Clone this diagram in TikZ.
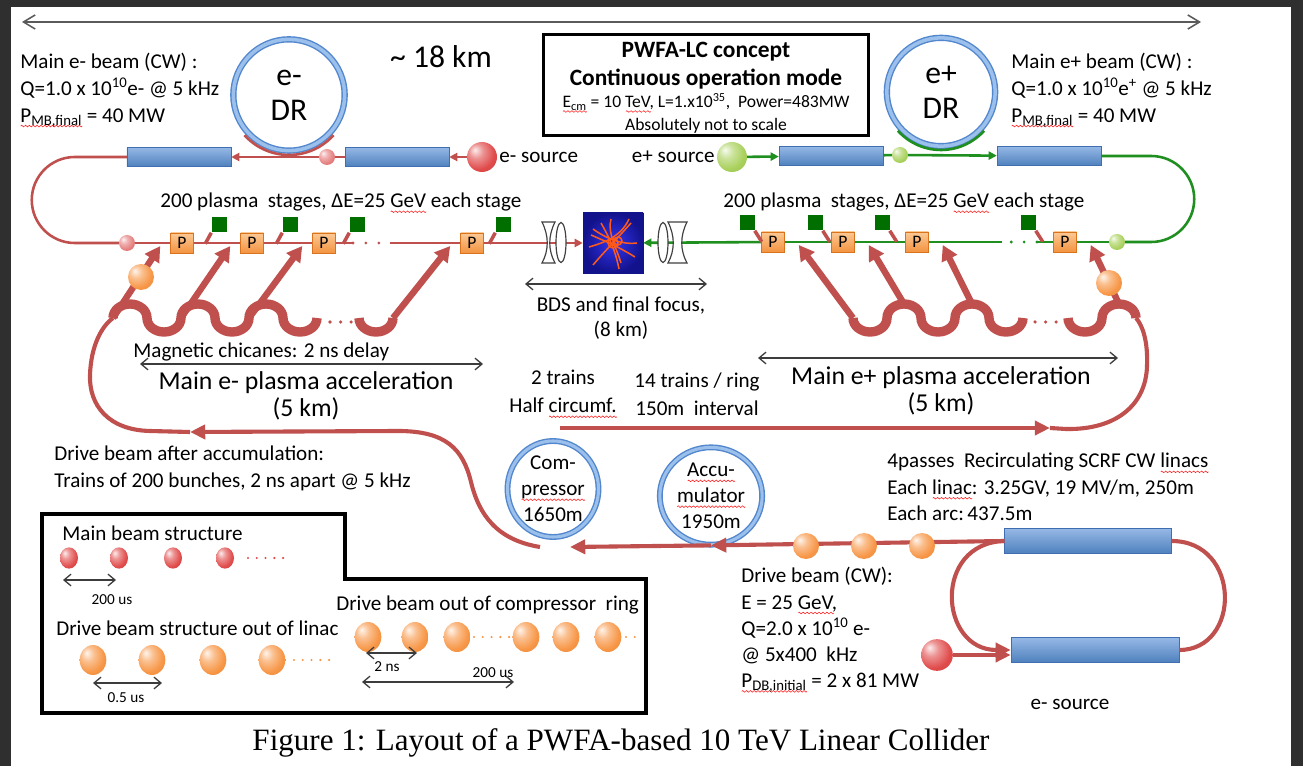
\documentclass[tikz,border=0pt]{standalone}
\usepackage{fontspec}
\setmainfont{Carlito}
\newfontfamily\capfont{Liberation Serif}
\usetikzlibrary{arrows.meta,positioning,calc,shapes.geometric}
\definecolor{Frame}{HTML}{2F2F2F}
\definecolor{Muted}{HTML}{5A5A5A}
\definecolor{Ink}{HTML}{3C3C3C}
\definecolor{BeamRed}{HTML}{C0504D}
\definecolor{BeamGreen}{HTML}{1F8F1F}
\definecolor{BoxTop}{HTML}{95B8E6}
\definecolor{BoxBot}{HTML}{4F81BD}
\definecolor{BoxEdge}{HTML}{3F6FB0}
\definecolor{RingDark}{HTML}{5287CE}
\definecolor{RingLight}{HTML}{9CC0EC}
\definecolor{CellTop}{HTML}{FCC994}
\definecolor{CellBot}{HTML}{F39341}
\definecolor{CellEdge}{HTML}{D9731E}
\definecolor{Kick}{HTML}{006F00}
\definecolor{Bunch}{HTML}{F79646}
\definecolor{Electron}{HTML}{E04A4A}
\definecolor{Pale}{HTML}{E57D7D}
\definecolor{Positron}{HTML}{A8D05A}
\definecolor{Deep}{HTML}{12128C}
\definecolor{Glow}{HTML}{3434F0}
\definecolor{Spark}{HTML}{FF5A1A}
\definecolor{SpellRed}{HTML}{FF2020}

% shiny bunch shading, tinted by the colour glint
\colorlet{glint}{Bunch}
\pgfdeclareradialshading[glint]{glossy}{\pgfqpoint{-12bp}{12bp}}{color(0bp)=(glint!10!white); color(12bp)=(glint!60!white); color(28bp)=(glint); color(50bp)=(glint!88!black); color(70bp)=(glint!78!black)}

% red wavy underline
\newsavebox{\spellbox}
\newcommand{\wavebit}{\hbox to 3.2pt{\tikz[baseline=0pt]\draw[SpellRed,line width=0.5pt] (0pt,0pt) sin (0.8pt,0.7pt) cos (1.6pt,0pt) sin (2.4pt,-0.7pt) cos (3.2pt,0pt);\hss}}
\newcommand{\spell}[1]{\sbox\spellbox{#1}\rlap{\raisebox{-3.4pt}{\hbox to \wd\spellbox{\xleaders\wavebit\hfill}}}#1}

\begin{document}
\begin{tikzpicture}[x=0.03cm,y=0.03cm,
  txt/.style={font=\fontsize{18}{23}\selectfont,inner sep=1pt},
  note/.style={txt,align=left,anchor=west},
  big/.style={font=\fontsize{22}{23}\selectfont,inner sep=1pt,align=center},
  lab/.style={font=\fontsize{13}{15}\selectfont,inner sep=1pt},
  ttl/.style={font=\fontsize{20}{24}\selectfont\bfseries,inner sep=0pt},
  linac/.style={draw=BoxEdge,top color=BoxTop,bottom color=BoxBot,minimum width=3.12cm,minimum height=0.57cm,inner sep=0pt},
  ring/.style={circle,draw=RingDark,double=RingLight,double distance=3pt,line width=1.2pt,fill=white,align=center,inner sep=0pt,font=\fontsize{27}{30}\selectfont},
  store/.style={ellipse,draw=RingDark,double=RingLight,double distance=2.6pt,line width=1.2pt,fill=white,inner sep=0pt},
  gloss/.code={\colorlet{glint}{#1}},
  glossy/.style={gloss=#1,shade,shading=glossy},
  bunch/.style={circle,inner sep=0pt,minimum size=#1},
  egg/.style={ellipse,inner sep=0pt,minimum width=0.8cm,minimum height=0.9cm,glossy=Bunch},
  stage/.style={draw=CellEdge,top color=CellTop,bottom color=CellBot,minimum width=0.69cm,minimum height=0.6cm,inner sep=0pt,font=\fontsize{15}{15}\selectfont},
  plug/.style={fill=Kick,minimum size=0.45cm,inner sep=0pt},
  eline/.style={draw=BeamRed,line width=2.2pt},
  pline/.style={draw=BeamGreen,line width=2.2pt},
  arr/.style={-{Triangle[length=7pt,width=7pt]}},
  dotrow/.style={line width=2.6pt,line cap=round,dash pattern=on 0pt off 11pt},
  stub/.style={draw=BeamRed,line width=3pt},
  drive/.style={draw=BeamRed,line width=3.5pt},
  dtip/.style={-{Triangle[length=13pt,width=12pt]}},
  feed/.style={draw=BeamRed,line width=5.5pt,-{Triangle[length=13pt,width=14pt]}},
  chicane/.style={draw=BeamRed,line width=8pt},
  dim/.style={draw=Ink,line width=1.1pt,>={Straight Barb[length=6pt,width=10pt]},<->},
  lens/.style={draw=black!75,fill=white,line width=1pt}
]
% frame
\fill[Frame] (0,0) rectangle (1303,-766);
\fill[white] (11,-7) rectangle (1291,-766);
\useasboundingbox (0,0) rectangle (1303,-766);

% overall length
\coordinate (spanL) at (22,-22);
\coordinate (spanR) at (1201,-22);
\draw[draw=Muted,line width=1.3pt,>={Straight Barb[length=10pt,width=12pt]},<->] (spanL) -- (spanR);
\node[font=\fontsize{27}{30}\selectfont,inner sep=0pt] (length) at (441,-57) {\textasciitilde\ 18 km};

% concept box
\node[draw=black,line width=2.6pt,minimum width=9.75cm,minimum height=3.03cm] (concept) at (706,-85) {};
\node[ttl] (title1) at (706,-52) {PWFA-LC concept};
\node[ttl] (title2) at (706,-79) {Continuous operation mode};
\node[font=\fontsize{15}{17}\selectfont,inner sep=0pt] (title3) at (706,-103) {\spell{E\textsubscript{cm}} = 10 \spell{TeV}, L=1.x10\textsuperscript{35},\ \ Power=483MW};
\node[font=\fontsize{15}{17}\selectfont,inner sep=0pt] (title4) at (706,-126) {Absolutely not to scale};

% damping rings
\node[ring,minimum size=3.34cm] (dre) at (289,-95) {e-\\DR};
\node[ring,minimum size=3.25cm] (drp) at (941,-92) {e+\\DR};

% main beam parameters
\node[note] (epar) at (19,-90) {Main e- beam (CW) :\\Q=1.0 x 10\textsuperscript{10}e- @ 5 kHz\\\spell{P\textsubscript{MB,final}} = 40 MW};
\node[note] (ppar) at (1010,-90) {Main e+ beam (CW) :\\Q=1.0 x 10\textsuperscript{10}e\textsuperscript{+} @ 5 kHz\\\spell{P\textsubscript{MB,final}} = 40 MW};

% injectors
\node[linac] (linA) at (179,-157) {};
\node[linac] (linB) at (397,-157) {};
\node[linac] (linC) at (831,-156) {};
\node[linac] (linD) at (1049,-156) {};
\node[bunch=0.9cm,glossy=Electron] (esrc) at (482,-157) {};
\node[txt,anchor=west] (esrcl) at (498,-157) {e- source};
\node[bunch=0.9cm,glossy=Positron] (psrc) at (732,-157) {};
\node[txt,anchor=east] (psrcl) at (716,-157) {e+ source};
\node[bunch=0.48cm,glossy=Pale] (eb1) at (327,-157) {};
\node[bunch=0.48cm,glossy=Positron] (pb1) at (900,-155) {};
\draw[eline,arr] (esrc) -- (linB);
\draw[eline] (linB) -- (eb1);
\draw[eline,arr] (eb1) -- (linA);
\draw[pline,arr] (psrc) -- (linC);
\draw[pline] (linC) -- (pb1);
\draw[pline,arr] (pb1) -- (linD);
\draw[eline] ($(dre.center)+(222:60)$) arc[start angle=222,end angle=318,radius=60];
\draw[pline] ($(drp.center)+(222:58)$) arc[start angle=222,end angle=318,radius=58];

% plasma stages
\node[bunch=0.48cm,glossy=Pale] (eb2) at (127,-243) {};
\node[bunch=0.48cm,glossy=Positron] (pb2) at (1117,-242) {};
\foreach \x [count=\i] in {182,252,324,472} \node[stage] (p\i) at (\x,-243) {P};
\foreach \x [count=\i] in {773,843,917,1065} \node[stage] (q\i) at (\x,-242) {P};
\foreach \x [count=\i] in {219,290,357,503} \node[plug] (g\i) at (\x,-225) {};
\foreach \x [count=\i] in {747,815,882,1028} \node[plug] (h\i) at (\x,-223) {};
\node[txt,anchor=west] (stagesE) at (159,-203) {200 plasma\ \ stages, ΔE=25 \spell{GeV} each stage};
\node[txt,anchor=west] (stagesP) at (722,-203) {200 plasma\ \ stages, ΔE=25 \spell{GeV} each stage};

% interaction point
\node[minimum size=1.8cm,inner sep=0pt,inner color=Glow,outer color=Deep,draw=Deep] (ip) at (613,-243) {};
\begin{scope}[shift={(ip.center)},Spark,line width=1.3pt]
  \draw (-20,-22) .. controls (-8,-8) and (2,2) .. (18,20);
  \draw (-22,8) .. controls (-8,2) and (6,-4) .. (22,-14);
  \draw (-12,20) .. controls (-4,6) and (2,-6) .. (6,-26);
  \draw (-24,-4) .. controls (-10,0) and (8,6) .. (16,24);
  \draw (8,-20) .. controls (4,-6) and (-6,10) .. (-2,24);
  \draw (-20,14) .. controls (-6,4) and (10,-2) .. (24,0);
  \draw (0,0) circle (5);
  \draw (5,2) circle (4);
\end{scope}

\coordinate (gapL) at (353,-243);
\coordinate (gapR) at (390,-243);
\coordinate (gapP) at (1002,-242);
\coordinate (gapQ) at (1037,-242);
\draw[eline] (linA.west) -- ++(-52,0) arc[start angle=90,end angle=270,radius=43] -- (eb2);
\draw[eline] (eb2) -- (p1) -- (p2) -- (p3) -- (gapL);
\draw[BeamRed,dotrow] (gapL) -- (gapR);
\draw[eline] (gapR) -- (p4);
\draw[eline,arr] (p4) -- (ip);
\draw[pline] (linD.east) -- ++(50,0) arc[start angle=90,end angle=-90,radius=43] -- (pb2);
\draw[pline] (pb2) -- (q4) -- (gapQ);
\draw[BeamGreen,dotrow] (gapQ) -- (gapP);
\draw[pline] (gapP) -- (q3) -- (q2) -- (q1);
\draw[pline,arr] (q1) -- (ip);
\foreach \i in {1,...,4} \draw[stub] (g\i.south west) -- ++(-6,-11);
\foreach \i in {1,...,4} \draw[stub] (h\i.south east) -- ++(7,-11);

% final focus lenses
\draw[lens] (542,-222) -- (555,-222) .. controls (548,-236) and (548,-250) .. (555,-263) -- (542,-263) .. controls (549,-250) and (549,-236) .. (542,-222) -- cycle;
\draw[lens] (561,-242.5) ellipse [x radius=5,y radius=20];
\draw[lens] (663,-242.5) ellipse [x radius=5,y radius=20];
\draw[lens] (668,-222) -- (687,-222) .. controls (680,-236) and (680,-250) .. (687,-263) -- (668,-263) .. controls (675,-250) and (675,-236) .. (668,-222) -- cycle;
\coordinate (bdsL) at (525,-284);
\coordinate (bdsR) at (707,-284);
\draw[dim] (bdsL) -- (bdsR);
\node[txt,align=center,font=\fontsize{18}{21}\selectfont] (bds) at (621,-318) {BDS and final focus,\\(8 km)};

% chicanes and drive beam feeds
\coordinate (wL1) at (113,-318);
\coordinate (wL2) at (359,-318);
\coordinate (wR1) at (853,-318);
\coordinate (wR2) at (1068,-318);
\coordinate (wR3) at (1136,-318);
\draw[chicane] (wL1) \foreach \k in {1,2,3} {arc[start angle=180,end angle=0,x radius=17,y radius=14] arc[start angle=180,end angle=360,x radius=17,y radius=14]};
\draw[chicane] (wL2) arc[start angle=180,end angle=360,x radius=17,y radius=14];
\draw[chicane] (wR1) \foreach \k in {1,2} {arc[start angle=180,end angle=360,x radius=17,y radius=14] arc[start angle=180,end angle=0,x radius=17,y radius=14]} arc[start angle=180,end angle=360,x radius=17,y radius=14];
\draw[chicane] (wR2) arc[start angle=180,end angle=360,x radius=17,y radius=14] arc[start angle=180,end angle=0,x radius=17,y radius=14];
\draw[BeamRed,dotrow,line width=3pt,dash pattern=on 0pt off 9pt] (330,-322) -- (358,-322);
\draw[BeamRed,dotrow,line width=3pt,dash pattern=on 0pt off 9pt] (1035,-322) -- (1065,-322);
\foreach \s/\i in {113/1,181/2,249/3,393/4} \draw[feed] (\s,-318) -- ($(p\i.west)+(-10,-3)$);
\foreach \s/\t/\i in {853/-318/1,904/-304/2,972/-304/3,1119/-304/4} \draw[feed] (\s,\t) -- ($(q\i.east)+(14,-3)$);
\node[bunch=0.78cm,glossy=Bunch] (ob1) at (141,-277) {};
\node[bunch=0.78cm,glossy=Bunch] (ob2) at (1109,-283) {};

\coordinate (accEL) at (140,-364);
\coordinate (accER) at (483,-364);
\coordinate (accPL) at (758,-358);
\coordinate (accPR) at (1118,-358);
\draw[dim] (accEL) -- (accER);
\draw[dim] (accPL) -- (accPR);
\node[txt,anchor=west] (chic) at (132,-352) {Magnetic chicanes: 2 ns delay};
\node[big] (accE) at (306,-396) {Main e- plasma acceleration\\(5 km)};
\node[big] (accP) at (941,-391) {Main e+ plasma acceleration\\(5 km)};
\node[txt,align=center,font=\fontsize{18}{24}\selectfont] (trains) at (563,-394) {2 trains\\Half \spell{circumf.}};
\node[txt,align=center,font=\fontsize{18}{24}\selectfont] (spacing) at (697,-394) {14 trains / ring\\150m\ \ interval};

% compressor and accumulator
\node[store,minimum width=2.73cm,minimum height=2.88cm] (cmp) at (553,-489) {};
\node[store,minimum width=3.07cm,minimum height=2.92cm] (acc) at (711,-496) {};
\node[txt,align=center,font=\fontsize{18}{22}\selectfont] (cmpl) at (cmp) {Com-\\\spell{pressor}\\1650m};
\node[txt,align=center,font=\fontsize{18}{22}\selectfont] (accl) at (acc) {\spell{Accu-}\\\spell{mulator}\\1950m};
\coordinate (cmpOut) at (540,-547);
\coordinate (cmpIn) at (570,-547);
\coordinate (cmpTop) at (560,-428);
\coordinate (retL) at (190,-432);
\coordinate (retR) at (1050,-428);
\draw[drive,dtip] (cmpOut) .. controls (497,-540) and (479,-515) .. (471,-482) .. controls (463,-449) and (446,-431) .. (398,-431) -- (retL);
\draw[drive] (retL) -- (150,-431) .. controls (108,-430) and (89,-405) .. (90,-375) .. controls (91,-345) and (102,-326) .. (wL1);
\draw[drive,dtip] (cmpTop) -- (retR);
\draw[drive] (retR) -- (1066,-429) .. controls (1116,-430) and (1146,-405) .. (1147,-366) .. controls (1148,-342) and (1143,-326) .. (wR3);
\node[note] (accpar) at (53,-468) {Drive beam after accumulation:\\Trains of 200 bunches, 2 ns apart @ 5 kHz};

% recirculating drive linacs
\node[linac,minimum width=5.0cm,minimum height=0.74cm] (dlinA) at (1088,-541) {};
\node[linac,minimum width=5.04cm,minimum height=0.74cm] (dlinB) at (1095,-650) {};
\node[bunch=0.95cm,glossy=Electron] (dsrc) at (937,-655) {};
\node[txt] (dsrcl) at (1070,-704) {e- source};
\draw[drive] (dlinA.east) .. controls +(70,0) and +(62,0) .. (dlinB.east);
\draw[drive,dtip] (dlinA.west) .. controls +(-72,-2) and +(-72,0) .. (dlinB.west);
\draw[drive,dtip] (dsrc) -- (dsrc -| dlinB.west);
\draw[drive,dtip] (dlinA.west) -- (acc.south);
\draw[drive,dtip] (acc.south) -- (cmpIn);
\foreach \x [count=\i] in {806,864,922} \node[bunch=0.78cm,glossy=Bunch] (db\i) at (\x,-546) {};
\node[note,font=\fontsize{18}{22.5}\selectfont] (rlpar) at (886,-487) {4passes\ \ Recirculating SCRF CW \spell{linacs}\\Each \spell{linac}: 3.25GV, 19 MV/m, 250m\\Each arc:\,437.5m};
\node[note,font=\fontsize{18}{22.3}\selectfont] (dbpar) at (740,-630) {Drive beam (CW):\\E = 25 \spell{GeV},\\Q=2.0 x 10\textsuperscript{10} e-\\@ 5x400\ \ kHz\\\spell{P\textsubscript{DB,initial}} = 2 x 81 MW};

% bunch structure legend
\draw[line width=2.6pt] (42,-514) -- (345,-514) -- (345,-579) -- (646,-579) -- (646,-713) -- (42,-713) -- cycle;
\node[txt,anchor=west] (lgMain) at (61,-533) {Main beam structure};
\foreach \x [count=\i] in {69,119,173,225} \node[ellipse,inner sep=0pt,minimum width=0.54cm,minimum height=0.64cm,glossy=Electron] (mb\i) at (\x,-558) {};
\draw[Electron,dotrow,line width=2pt,dash pattern=on 0pt off 7.5pt] (248,-558) -- (288,-558);
\coordinate (mbL) at (63,-580);
\coordinate (mbR) at (116,-580);
\draw[dim] (mbL) -- (mbR);
\node[lab] (mbgap) at (112,-600) {200 us};
\node[txt,anchor=west] (lgLin) at (55,-628) {Drive beam structure out of linac};
\foreach \x [count=\i] in {93,152,213,272} \node[egg] (lb\i) at (\x,-660) {};
\draw[Bunch,dotrow,line width=2pt,dash pattern=on 0pt off 7.5pt] (294,-660) -- (330,-660);
\coordinate (lbL) at (93,-683);
\coordinate (lbR) at (162,-683);
\draw[dim] (lbL) -- (lbR);
\node[lab] (lbgap) at (126,-698) {0.5 us};
\node[txt,anchor=west] (lgCmp) at (335,-605) {Drive beam out of compressor\ \ ring};
\foreach \x [count=\i] in {368,415,457,526,566,608} \node[egg] (cb\i) at (\x,-637) {};
\draw[Bunch,dotrow,line width=2pt,dash pattern=on 0pt off 7.5pt] (474,-637) -- (510,-637);
\draw[Bunch,dotrow,line width=2pt,dash pattern=on 0pt off 7.5pt] (626,-637) -- (642,-637);
\coordinate (cbL) at (366,-653);
\coordinate (cbR) at (417,-653);
\coordinate (trL) at (362,-682);
\coordinate (trR) at (514,-682);
\draw[dim] (cbL) -- (cbR);
\draw[dim] (trL) -- (trR);
\node[lab] (cbgap) at (387,-667) {2 ns};
\node[lab] (trgap) at (493,-673) {200 us};

% caption
\node[font=\capfont\fontsize{26.5}{30}\selectfont,inner sep=0pt] (caption) at (621,-743) {Figure 1: Layout of a PWFA-based 10 TeV Linear Collider};
\end{tikzpicture}
\end{document}
